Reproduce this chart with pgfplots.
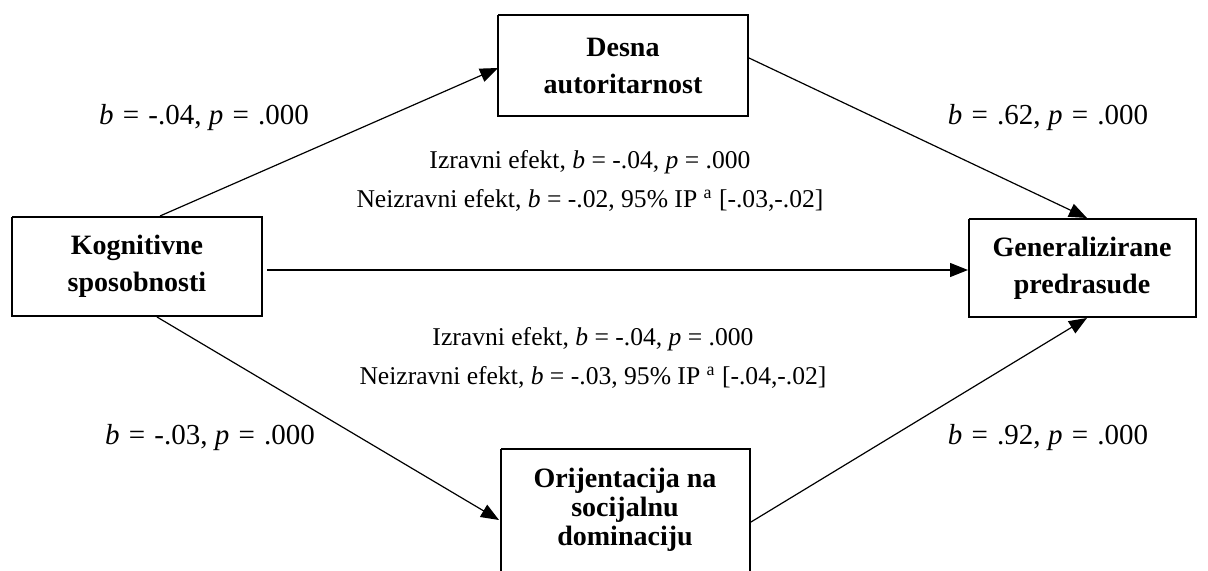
\documentclass[border=0pt]{standalone}
\usepackage{pgfplots}
\pgfplotsset{compat=1.18}
\usepackage{fontspec}
\setmainfont{Liberation Serif}
\usetikzlibrary{arrows.meta}
\newcommand{\eq}{\hspace{1pt} = \hspace{1pt}}
\begin{document}
\begin{tikzpicture}
\begin{axis}[
  width=604pt, height=285.5pt, scale only axis,
  xmin=0, xmax=1208, ymin=0, ymax=571, y dir=reverse,
  hide axis, clip=true,
  every axis plot/.style={black, line join=miter},
]
\coordinate (SW) at (axis cs:0,571);
\coordinate (NE) at (axis cs:1208,0);
% boxes
\addplot[line width=1.25pt] coordinates {(498,15) (748,15) (748,116) (498,116) (498,15)};
\addplot[line width=1.25pt] coordinates {(12,217) (262,217) (262,316) (12,316) (12,217)};
\addplot[line width=1.25pt] coordinates {(969,219) (1196,219) (1196,317) (969,317) (969,219)};
\addplot[line width=1.25pt] coordinates {(501,449) (750,449) (750,600) (501,600) (501,449)};
% arrows
\addplot[line width=0.6pt, -{Triangle[length=9pt,width=7pt]}] coordinates {(160,216) (498,68)};
\addplot[line width=0.6pt, -{Triangle[length=9pt,width=7pt]}] coordinates {(749,58) (1087,218)};
\addplot[line width=0.6pt, -{Triangle[length=9pt,width=7pt]}] coordinates {(267,270) (968,270)};
\addplot[line width=0.6pt, -{Triangle[length=9pt,width=7pt]}] coordinates {(157,317) (499,520)};
\addplot[line width=0.6pt, -{Triangle[length=9pt,width=7pt]}] coordinates {(751,522) (1087,318)};
% box labels
\tikzset{box/.style={align=center, font=\fontsize{14}{18.5}\selectfont\bfseries, inner sep=0pt}}
\node[box] at (axis cs:623,66) {Desna\\autoritarnost};
\node[box] at (axis cs:137,266) {Kognitivne\\sposobnosti};
\node[box] at (axis cs:1082,268) {Generalizirane\\predrasude};
\node[box, font=\fontsize{14}{14.5}\selectfont\bfseries] at (axis cs:625,510) {Orijentacija na\\socijalnu\\dominaciju};
% path labels
\tikzset{lab/.style={align=center, font=\fontsize{12.8}{19.5}\selectfont, inner sep=0pt}}
\tikzset{clab/.style={align=center, font=\fontsize{14.5}{16}\selectfont, inner sep=0pt}}
\node[clab] at (axis cs:204,118) {\textit{b}\eq-.04, \textit{p}\eq.000};
\node[clab] at (axis cs:1048,118) {\textit{b}\eq.62, \textit{p}\eq.000};
\node[clab] at (axis cs:210,438) {\textit{b}\eq-.03, \textit{p}\eq.000};
\node[clab] at (axis cs:1048,438) {\textit{b}\eq.92, \textit{p}\eq.000};
\node[lab] at (axis cs:590,181) {Izravni efekt, \textit{b} = -.04, \textit{p} = .000\\Neizravni efekt, \textit{b} = -.02, 95\% IP \textsuperscript{a} [-.03,-.02]};
\node[lab] at (axis cs:593,358) {Izravni efekt, \textit{b} = -.04, \textit{p} = .000\\Neizravni efekt, \textit{b} = -.03, 95\% IP \textsuperscript{a} [-.04,-.02]};
\end{axis}
\pgfresetboundingbox
\path[use as bounding box] (SW) rectangle (NE);
\end{tikzpicture}
\end{document}
